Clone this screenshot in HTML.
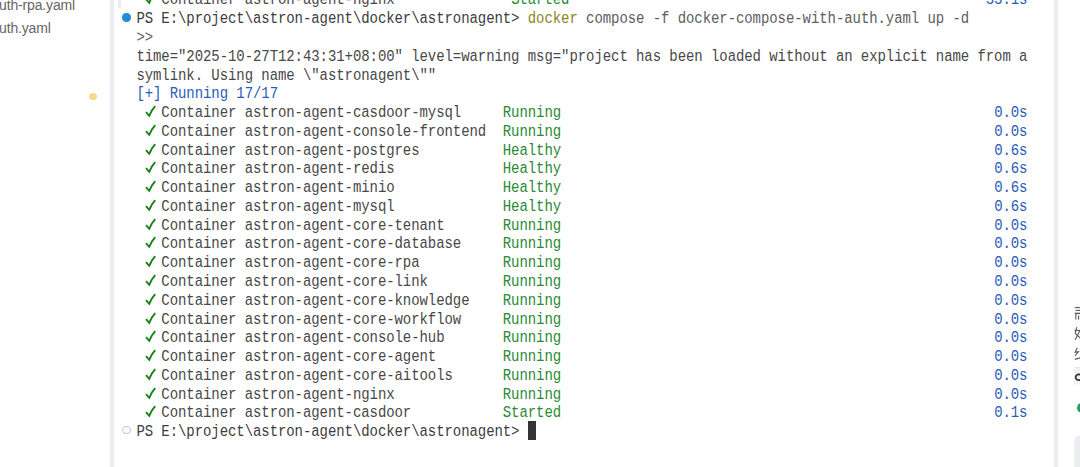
<!DOCTYPE html>
<html><head><meta charset="utf-8">
<style>
html,body{margin:0;padding:0;}
body{width:1080px;height:467px;overflow:hidden;background:#fff;position:relative;font-family:"Liberation Sans",sans-serif;}
.side{position:absolute;left:0;top:0;width:110px;height:467px;background:#fff;}
.fn{position:absolute;left:-1px;font-size:14px;color:#666;white-space:nowrap;letter-spacing:-0.15px;}
.odot{position:absolute;left:89.3px;top:92.8px;width:7.5px;height:7.5px;border-radius:50%;background:#f7d98e;}
.strip{position:absolute;top:0;height:467px;background:#ebedf1;}
.sbar{position:absolute;left:118px;top:0;width:3px;height:8px;background:#ebedf1;}
.bdot{position:absolute;left:122px;top:13px;width:8.6px;height:8.6px;border-radius:50%;background:#238bd6;}
.cdot{position:absolute;left:122.4px;top:426px;width:6.4px;height:6.4px;border-radius:50%;border:1.2px solid #c4c4c4;}
.ln{transform:scaleY(1.18);transform-origin:0 13.1px;position:absolute;left:136.4px;height:18.77px;line-height:18.77px;white-space:pre;font-family:"Liberation Mono",monospace;font-size:14px;letter-spacing:-0.074px;color:#484848;}
.ck{position:absolute;left:144.73px;}
.g{color:#2a8a36;}
.b{color:#2b5cb8;}
.p{color:#3d3d3d;}
.y{color:#8a871e;}
.m{color:#5e5e5e;}
.cur{position:absolute;left:528px;top:421.3px;width:8px;height:18.5px;background:#333;}
.rp{position:absolute;left:1058px;top:0;width:22px;height:467px;background:#fff;overflow:hidden;}
</style></head><body>
<div class="side">
<div class="fn" style="top:-3.4px">uth-rpa.yaml</div>
<div class="fn" style="top:19.9px">uth.yaml</div>
<div class="odot"></div>
</div>
<div class="strip" style="left:110px;width:4px"></div>
<div class="sbar"></div>
<div class="bdot"></div>
<div class="cdot"></div>
<div class="cur"></div>
<div class="ln" style="top:-8.57px">   Container astron-agent-nginx              <span class="g">Started</span>                                                  <span class="b">33.1s</span></div>
<div class="ln" style="top:10.20px"><span class="p">PS E:\project\astron-agent\docker\astronagent&gt; </span><span class="y">docker</span><span class="m"> compose -f docker-compose-with-auth.yaml up -d</span></div>
<div class="ln" style="top:28.97px"><span class="m">&gt;&gt;</span></div>
<div class="ln" style="top:47.74px">time="2025-10-27T12:43:31+08:00" level=warning msg="project has been loaded without an explicit name from a</div>
<div class="ln" style="top:66.51px">symlink. Using name \"astronagent\""</div>
<div class="ln" style="top:85.28px"><span class="b">[+] Running 17/17</span></div>
<div class="ln" style="top:104.05px">   Container astron-agent-casdoor-mysql     <span class="g">Running</span>                                                    <span class="b">0.0s</span></div>
<div class="ln" style="top:122.82px">   Container astron-agent-console-frontend  <span class="g">Running</span>                                                    <span class="b">0.0s</span></div>
<div class="ln" style="top:141.59px">   Container astron-agent-postgres          <span class="g">Healthy</span>                                                    <span class="b">0.6s</span></div>
<div class="ln" style="top:160.36px">   Container astron-agent-redis             <span class="g">Healthy</span>                                                    <span class="b">0.6s</span></div>
<div class="ln" style="top:179.13px">   Container astron-agent-minio             <span class="g">Healthy</span>                                                    <span class="b">0.6s</span></div>
<div class="ln" style="top:197.90px">   Container astron-agent-mysql             <span class="g">Healthy</span>                                                    <span class="b">0.6s</span></div>
<div class="ln" style="top:216.67px">   Container astron-agent-core-tenant       <span class="g">Running</span>                                                    <span class="b">0.0s</span></div>
<div class="ln" style="top:235.44px">   Container astron-agent-core-database     <span class="g">Running</span>                                                    <span class="b">0.0s</span></div>
<div class="ln" style="top:254.21px">   Container astron-agent-core-rpa          <span class="g">Running</span>                                                    <span class="b">0.0s</span></div>
<div class="ln" style="top:272.98px">   Container astron-agent-core-link         <span class="g">Running</span>                                                    <span class="b">0.0s</span></div>
<div class="ln" style="top:291.75px">   Container astron-agent-core-knowledge    <span class="g">Running</span>                                                    <span class="b">0.0s</span></div>
<div class="ln" style="top:310.52px">   Container astron-agent-core-workflow     <span class="g">Running</span>                                                    <span class="b">0.0s</span></div>
<div class="ln" style="top:329.29px">   Container astron-agent-console-hub       <span class="g">Running</span>                                                    <span class="b">0.0s</span></div>
<div class="ln" style="top:348.06px">   Container astron-agent-core-agent        <span class="g">Running</span>                                                    <span class="b">0.0s</span></div>
<div class="ln" style="top:366.83px">   Container astron-agent-core-aitools      <span class="g">Running</span>                                                    <span class="b">0.0s</span></div>
<div class="ln" style="top:385.60px">   Container astron-agent-nginx             <span class="g">Running</span>                                                    <span class="b">0.0s</span></div>
<div class="ln" style="top:404.37px">   Container astron-agent-casdoor           <span class="g">Started</span>                                                    <span class="b">0.1s</span></div>
<div class="ln" style="top:423.14px"><span class="p">PS E:\project\astron-agent\docker\astronagent&gt; </span></div>
<svg class="ck" style="top:-8.57px" width="12" height="14" viewBox="0 0 12 14"><path d="M1.0 8.2 L4.2 11.8 Q6.3 6.4 10.2 2.1" fill="none" stroke="#168216" stroke-width="1.9" stroke-linecap="butt" stroke-linejoin="miter"/></svg>
<svg class="ck" style="top:104.05px" width="12" height="14" viewBox="0 0 12 14"><path d="M1.0 8.2 L4.2 11.8 Q6.3 6.4 10.2 2.1" fill="none" stroke="#168216" stroke-width="1.9" stroke-linecap="butt" stroke-linejoin="miter"/></svg>
<svg class="ck" style="top:122.82px" width="12" height="14" viewBox="0 0 12 14"><path d="M1.0 8.2 L4.2 11.8 Q6.3 6.4 10.2 2.1" fill="none" stroke="#168216" stroke-width="1.9" stroke-linecap="butt" stroke-linejoin="miter"/></svg>
<svg class="ck" style="top:141.59px" width="12" height="14" viewBox="0 0 12 14"><path d="M1.0 8.2 L4.2 11.8 Q6.3 6.4 10.2 2.1" fill="none" stroke="#168216" stroke-width="1.9" stroke-linecap="butt" stroke-linejoin="miter"/></svg>
<svg class="ck" style="top:160.36px" width="12" height="14" viewBox="0 0 12 14"><path d="M1.0 8.2 L4.2 11.8 Q6.3 6.4 10.2 2.1" fill="none" stroke="#168216" stroke-width="1.9" stroke-linecap="butt" stroke-linejoin="miter"/></svg>
<svg class="ck" style="top:179.13px" width="12" height="14" viewBox="0 0 12 14"><path d="M1.0 8.2 L4.2 11.8 Q6.3 6.4 10.2 2.1" fill="none" stroke="#168216" stroke-width="1.9" stroke-linecap="butt" stroke-linejoin="miter"/></svg>
<svg class="ck" style="top:197.90px" width="12" height="14" viewBox="0 0 12 14"><path d="M1.0 8.2 L4.2 11.8 Q6.3 6.4 10.2 2.1" fill="none" stroke="#168216" stroke-width="1.9" stroke-linecap="butt" stroke-linejoin="miter"/></svg>
<svg class="ck" style="top:216.67px" width="12" height="14" viewBox="0 0 12 14"><path d="M1.0 8.2 L4.2 11.8 Q6.3 6.4 10.2 2.1" fill="none" stroke="#168216" stroke-width="1.9" stroke-linecap="butt" stroke-linejoin="miter"/></svg>
<svg class="ck" style="top:235.44px" width="12" height="14" viewBox="0 0 12 14"><path d="M1.0 8.2 L4.2 11.8 Q6.3 6.4 10.2 2.1" fill="none" stroke="#168216" stroke-width="1.9" stroke-linecap="butt" stroke-linejoin="miter"/></svg>
<svg class="ck" style="top:254.21px" width="12" height="14" viewBox="0 0 12 14"><path d="M1.0 8.2 L4.2 11.8 Q6.3 6.4 10.2 2.1" fill="none" stroke="#168216" stroke-width="1.9" stroke-linecap="butt" stroke-linejoin="miter"/></svg>
<svg class="ck" style="top:272.98px" width="12" height="14" viewBox="0 0 12 14"><path d="M1.0 8.2 L4.2 11.8 Q6.3 6.4 10.2 2.1" fill="none" stroke="#168216" stroke-width="1.9" stroke-linecap="butt" stroke-linejoin="miter"/></svg>
<svg class="ck" style="top:291.75px" width="12" height="14" viewBox="0 0 12 14"><path d="M1.0 8.2 L4.2 11.8 Q6.3 6.4 10.2 2.1" fill="none" stroke="#168216" stroke-width="1.9" stroke-linecap="butt" stroke-linejoin="miter"/></svg>
<svg class="ck" style="top:310.52px" width="12" height="14" viewBox="0 0 12 14"><path d="M1.0 8.2 L4.2 11.8 Q6.3 6.4 10.2 2.1" fill="none" stroke="#168216" stroke-width="1.9" stroke-linecap="butt" stroke-linejoin="miter"/></svg>
<svg class="ck" style="top:329.29px" width="12" height="14" viewBox="0 0 12 14"><path d="M1.0 8.2 L4.2 11.8 Q6.3 6.4 10.2 2.1" fill="none" stroke="#168216" stroke-width="1.9" stroke-linecap="butt" stroke-linejoin="miter"/></svg>
<svg class="ck" style="top:348.06px" width="12" height="14" viewBox="0 0 12 14"><path d="M1.0 8.2 L4.2 11.8 Q6.3 6.4 10.2 2.1" fill="none" stroke="#168216" stroke-width="1.9" stroke-linecap="butt" stroke-linejoin="miter"/></svg>
<svg class="ck" style="top:366.83px" width="12" height="14" viewBox="0 0 12 14"><path d="M1.0 8.2 L4.2 11.8 Q6.3 6.4 10.2 2.1" fill="none" stroke="#168216" stroke-width="1.9" stroke-linecap="butt" stroke-linejoin="miter"/></svg>
<svg class="ck" style="top:385.60px" width="12" height="14" viewBox="0 0 12 14"><path d="M1.0 8.2 L4.2 11.8 Q6.3 6.4 10.2 2.1" fill="none" stroke="#168216" stroke-width="1.9" stroke-linecap="butt" stroke-linejoin="miter"/></svg>
<svg class="ck" style="top:404.37px" width="12" height="14" viewBox="0 0 12 14"><path d="M1.0 8.2 L4.2 11.8 Q6.3 6.4 10.2 2.1" fill="none" stroke="#168216" stroke-width="1.9" stroke-linecap="butt" stroke-linejoin="miter"/></svg>
<div class="strip" style="left:1054px;width:4px"></div>
<div class="rp"></div>
<svg class="rpsvg" width="1080" height="467" viewBox="0 0 1080 467" style="position:absolute;left:0;top:0">
<g stroke="#5a5a5a" fill="none" stroke-width="1.1">
<path d="M1074.7 307.6 H1080.5"/>
<path d="M1075.6 310.4 H1080.5"/>
<path d="M1074.7 313.4 H1080.5" stroke-width="1.4"/>
<path d="M1075.9 313.2 V319.6"/>
<path d="M1078.6 315.6 V319.6"/>
<path d="M1076.8 327.2 L1075.2 333.4 L1080.5 338.2"/>
<path d="M1074.4 330.4 H1080.5"/>
<path d="M1079.6 331 L1075.2 339.8"/>
<path d="M1077.2 347.8 L1075.2 352.2 L1078.4 351.6 L1075 356"/>
<path d="M1074.8 359.4 L1080.5 357.8"/>
</g>
<rect x="1074.2" y="367" width="8" height="17.5" fill="#f2f2f3"/>
<rect x="1074.2" y="367" width="8" height="1" fill="#e6e6e8"/>
<path d="M1080.5 374.6 Q1076 373.6 1075.6 377.2 Q1076 381 1080.5 379.9" stroke="#333" stroke-width="1.8" fill="none"/>
<circle cx="1082.1" cy="407.9" r="5.1" fill="#2b9a6b"/>
<rect x="1074.2" y="435.5" width="20" height="40" rx="6" fill="#ebecef"/>
</svg>
</body></html>
